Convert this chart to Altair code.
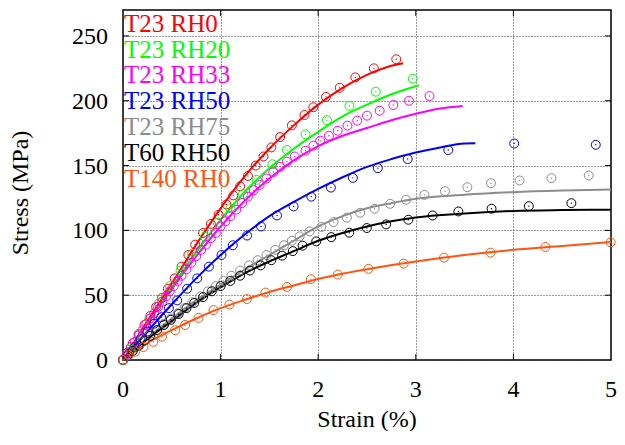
import altair as alt
import pandas as pd

FONT = "Liberation Serif"

series_names = ["T23 RH0", "T23 RH20", "T23 RH33", "T23 RH50", "T23 RH75", "T60 RH50", "T140 RH0"]
series_colors = ["#ff0000", "#00ff00", "#ff00ff", "#0000ff", "#8c8c8c", "#000000", "#ff5511"]

# measured points (circles)
rh0_px = [0, 0.05, 0.10, 0.16, 0.22, 0.28, 0.34, 0.40, 0.46, 0.53, 0.60, 0.67, 0.74, 0.82, 0.90, 0.98, 1.06, 1.13, 1.20, 1.28, 1.36, 1.44, 1.52, 1.61, 1.73, 1.86, 1.95, 2.08, 2.22, 2.38, 2.57, 2.80]
rh0_py = [0, 6, 13, 20, 27, 34, 41, 48, 55, 63, 72, 81, 89, 98, 105, 112, 120, 127, 134, 142, 150, 157, 164, 172, 181, 189, 195, 203, 210, 218, 225, 232]
rh20_px = [0, 0.08, 0.17, 0.27, 0.37, 0.48, 0.59, 0.71, 0.84, 0.97, 1.10, 1.23, 1.37, 1.53, 1.68, 1.87, 2.09, 2.32, 2.59, 2.97]
rh20_py = [0, 9, 20, 32, 44, 57, 69, 82, 95, 106, 117, 128, 139, 151, 162, 174, 185, 196, 207, 217]
rh33_px = [0, 0.04, 0.08, 0.12, 0.16, 0.20, 0.24, 0.28, 0.32, 0.36, 0.40, 0.44, 0.48, 0.52, 0.56, 0.60, 0.65, 0.70, 0.75, 0.80, 0.85, 0.90, 0.95, 1.00, 1.05, 1.10, 1.16, 1.22, 1.28, 1.34, 1.40, 1.47, 1.54, 1.61, 1.68, 1.76, 1.87, 1.95, 2.02, 2.11, 2.20, 2.30, 2.40, 2.50, 2.63, 2.77, 2.93, 3.14]
rh33_py = [0, 5, 10, 14, 19, 23, 28, 32, 36, 41, 45, 49, 53, 57, 61, 65, 70, 75, 80, 85, 89, 94, 98, 103, 107, 111, 116, 121, 126, 131, 135, 140, 145, 149, 153, 157, 161.5, 165.4, 169.2, 173, 176.9, 180.8, 184.6, 188.5, 192.3, 196.7, 200, 203.6]
rh50_px = [0, 0.06, 0.12, 0.18, 0.25, 0.32, 0.39, 0.47, 0.555, 0.657, 0.76, 0.88, 1.009, 1.125, 1.271, 1.414, 1.578, 1.748, 1.929, 2.13, 2.355, 2.611, 2.917, 3.333, 4.008, 4.844]
rh50_py = [0, 5, 10, 16, 22, 28, 33, 40, 46, 55, 63, 72, 81, 88.5, 96, 103, 111.5, 118.5, 126, 133, 140.5, 148, 155, 162, 167, 166]
rh75_px = [0, 0.05, 0.10, 0.16, 0.22, 0.28, 0.35, 0.42, 0.49, 0.56, 0.63, 0.71, 0.79, 0.87, 0.95, 1.03, 1.11, 1.20, 1.29, 1.38, 1.47, 1.56, 1.65, 1.73, 1.81, 1.912, 2.032, 2.157, 2.294, 2.43, 2.577, 2.737, 2.90, 3.088, 3.299, 3.528, 3.77, 4.063, 4.39, 4.772]
rh75_py = [0, 4, 7, 11, 15, 19, 23, 28, 32, 36, 40, 44.5, 49, 53, 57, 61, 65, 69, 73, 77, 81, 85, 88.5, 92, 95.4, 99.2, 102.6, 106.4, 109.8, 113.6, 116.7, 120.5, 123.6, 127.4, 130.2, 133.3, 136.4, 138.5, 140.3, 142.3]
t60_px = [0, 0.05, 0.10, 0.16, 0.22, 0.28, 0.35, 0.42, 0.49, 0.57, 0.65, 0.73, 0.82, 0.91, 1.00, 1.10, 1.20, 1.30, 1.41, 1.52, 1.63, 1.74, 1.84, 1.98, 2.134, 2.318, 2.498, 2.696, 2.924, 3.173, 3.436, 3.776, 4.158, 4.594]
t60_py = [0, 3.5, 7, 11, 15, 18.5, 23, 27, 31, 35.5, 40, 44, 48.5, 53, 57, 61, 65, 69, 73, 77, 80.5, 84, 88.2, 91.5, 94.8, 98.2, 101.8, 104.6, 108.2, 111.5, 114.6, 116.7, 118.7, 121]
t140_px = [0, 0.06, 0.125, 0.21, 0.31, 0.40, 0.535, 0.637, 0.774, 0.927, 1.09, 1.27, 1.459, 1.68, 1.925, 2.201, 2.515, 2.876, 3.289, 3.766, 4.328, 4.997]
t140_py = [0, 3.8, 6.4, 10, 14, 18, 23, 27, 32.5, 38.5, 42.8, 47, 52, 56.4, 62.3, 65.9, 70.3, 74.4, 79, 82.8, 87.2, 90.8]

# model curves (lines)
rh0_lx = [0, 0.25, 0.5, 0.75, 1.0, 1.25, 1.5, 1.75, 2.0, 2.25, 2.5, 2.75, 2.87]
rh0_ly = [0, 30, 59, 89, 117, 142, 163, 181, 197, 210, 220, 227, 229]
rh20_lx = [0, 0.25, 0.5, 0.75, 1.0, 1.25, 1.5, 1.75, 2.0, 2.25, 2.5, 2.75, 3.03]
rh20_ly = [0, 28, 56, 83, 108, 130, 148, 163, 176, 188, 197, 205, 212]
rh33_lx = [0, 0.25, 0.5, 0.75, 1.0, 1.25, 1.5, 1.75, 2.0, 2.25, 2.5, 2.75, 3.0, 3.25, 3.48]
rh33_ly = [0, 28, 55, 80, 103, 123, 140, 154, 165, 173, 179, 185, 190, 194, 196]
rh50_lx = [0, 0.25, 0.5, 0.75, 1.0, 1.25, 1.5, 1.75, 2.0, 2.25, 2.5, 2.75, 3.0, 3.25, 3.5, 3.61]
rh50_ly = [0, 22, 43, 63, 81, 97, 111, 122, 132, 141, 149, 155, 160, 164, 167, 167.2]
rh75_lx = [0, 0.25, 0.5, 0.75, 1.0, 1.25, 1.5, 1.75, 2.0, 2.25, 2.5, 2.75, 3.0, 3.5, 4.0, 4.5, 5.0]
rh75_ly = [0, 17, 32, 46, 58, 70, 81, 92, 103, 111, 117, 121, 124.4, 127.5, 129.5, 130.7, 131.5]
t60_lx = [0, 0.25, 0.5, 0.75, 1.0, 1.25, 1.5, 1.75, 2.0, 2.25, 2.5, 2.75, 3.0, 3.5, 4.0, 4.5, 5.0]
t60_ly = [0, 16, 30, 44, 56, 67, 76, 84, 92, 98, 103, 107, 110, 113, 115, 115.7, 116]
t140_lx = [0, 0.25, 0.5, 0.75, 1.0, 1.25, 1.5, 1.75, 2.0, 2.5, 3.0, 3.5, 4.0, 4.5, 5.0]
t140_ly = [0, 13, 23, 32, 40, 46.5, 52.5, 57.5, 62.5, 70, 76, 81, 85, 88, 91]

x_ticks = [0, 1, 2, 3, 4, 5]
y_ticks = [0, 50, 100, 150, 200, 250]
x_title = "Strain (%)"
y_title = "Stress (MPa)"

pts_sets = [(rh0_px, rh0_py), (rh20_px, rh20_py), (rh33_px, rh33_py), (rh50_px, rh50_py),
            (rh75_px, rh75_py), (t60_px, t60_py), (t140_px, t140_py)]
line_sets = [(rh0_lx, rh0_ly), (rh20_lx, rh20_ly), (rh33_lx, rh33_ly), (rh50_lx, rh50_ly),
             (rh75_lx, rh75_ly), (t60_lx, t60_ly), (t140_lx, t140_ly)]

pts_rows, line_rows = [], []
for name, (xs, ys) in zip(series_names, pts_sets):
    for a, b in zip(xs, ys):
        pts_rows.append({"series": name, "strain": a, "stress": b})
for name, (xs, ys) in zip(series_names, line_sets):
    for i, (a, b) in enumerate(zip(xs, ys)):
        line_rows.append({"series": name, "strain": a, "stress": b, "o": i})
pts = pd.DataFrame(pts_rows)
lines = pd.DataFrame(line_rows)

W, H = 488, 350
xscale = alt.Scale(domain=[0, 5], nice=False, zero=False)
yscale = alt.Scale(domain=[0, 270], nice=False, zero=False)
cscale = alt.Scale(domain=series_names, range=series_colors)

xaxis = alt.Axis(title=None, values=x_ticks, labels=False)
yaxis = alt.Axis(title=None, values=y_ticks, labels=False)

base_x = alt.X("strain:Q", scale=xscale, axis=xaxis)
base_y = alt.Y("stress:Q", scale=yscale, axis=yaxis)
color = alt.Color("series:N", scale=cscale, legend=None)

line_layer = alt.Chart(lines).mark_line(strokeWidth=2, interpolate="monotone").encode(
    x=base_x, y=base_y, color=color, detail="series:N", order="o:Q")
circ_layer = alt.Chart(pts).mark_point(shape="circle", filled=False, size=80, strokeWidth=1,
                                       clip=False, opacity=1).encode(
    x=alt.X("strain:Q", scale=xscale), y=alt.Y("stress:Q", scale=yscale), color=color)
dot_layer = alt.Chart(pts).mark_circle(size=2, opacity=1).encode(
    x=alt.X("strain:Q", scale=xscale), y=alt.Y("stress:Q", scale=yscale), color=color)

# inward tick marks on all four sides
xt = pd.DataFrame({"strain": x_ticks[1:-1]})
yt = pd.DataFrame({"stress": y_ticks[1:]})
tick_b = alt.Chart(xt).mark_rule(color="black", strokeWidth=1).encode(
    x=alt.X("strain:Q", scale=xscale), y=alt.value(H), y2=alt.value(H - 6))
tick_t = alt.Chart(xt).mark_rule(color="black", strokeWidth=1).encode(
    x=alt.X("strain:Q", scale=xscale), y=alt.value(0), y2=alt.value(6))
tick_l = alt.Chart(yt).mark_rule(color="black", strokeWidth=1).encode(
    y=alt.Y("stress:Q", scale=yscale), x=alt.value(0), x2=alt.value(6))
tick_r = alt.Chart(yt).mark_rule(color="black", strokeWidth=1).encode(
    y=alt.Y("stress:Q", scale=yscale), x=alt.value(W), x2=alt.value(W - 6))

# tick labels and axis titles as serif text
xl = pd.DataFrame({"strain": x_ticks, "lab": [str(v) for v in x_ticks]})
yl = pd.DataFrame({"stress": y_ticks, "lab": [str(v) for v in y_ticks]})
xlab = alt.Chart(xl).mark_text(font=FONT, fontSize=24, baseline="alphabetic", align="center",
                               color="black").encode(
    x=alt.X("strain:Q", scale=xscale), y=alt.value(H + 37), text="lab:N")
ylab = alt.Chart(yl).mark_text(font=FONT, fontSize=24, baseline="middle", align="right",
                               color="black", dy=1).encode(
    y=alt.Y("stress:Q", scale=yscale), x=alt.value(-15), text="lab:N")
xtit = alt.Chart(pd.DataFrame({"t": [x_title]})).mark_text(
    font=FONT, fontSize=24, baseline="alphabetic", align="center", color="black").encode(
    x=alt.value(W / 2), y=alt.value(H + 67), text="t:N")
ytit = alt.Chart(pd.DataFrame({"t": [y_title]})).mark_text(
    font=FONT, fontSize=24, baseline="middle", align="center", angle=270, color="black").encode(
    x=alt.value(-102), y=alt.value(183), text="t:N")

# key (text in series colours)
key = pd.DataFrame({"series": series_names,
                    "ypix": [21.7 + 25.8 * i for i in range(len(series_names))]})
key_layer = alt.Chart(key).mark_text(align="left", baseline="alphabetic", font=FONT,
                                     fontSize=25).encode(
    x=alt.value(1), y=alt.Y("ypix:Q", scale=None), text="series:N", color=color)

chart = alt.layer(line_layer, circ_layer, dot_layer, tick_b, tick_t, tick_l, tick_r,
                  xlab, ylab, xtit, ytit, key_layer).properties(
    width=W, height=H,
    autosize=alt.AutoSizeParams(type="none"),
    padding={"left": 115, "top": 2, "right": 6, "bottom": 71},
).configure(background="white").configure_view(
    stroke="black", strokeWidth=1.5
).configure_axis(
    grid=True, gridDash=[1, 2], gridColor="#333333", gridWidth=1, ticks=False, domain=False,
)

chart.save("out.html", embed_options={"renderer": "svg", "actions": False})
